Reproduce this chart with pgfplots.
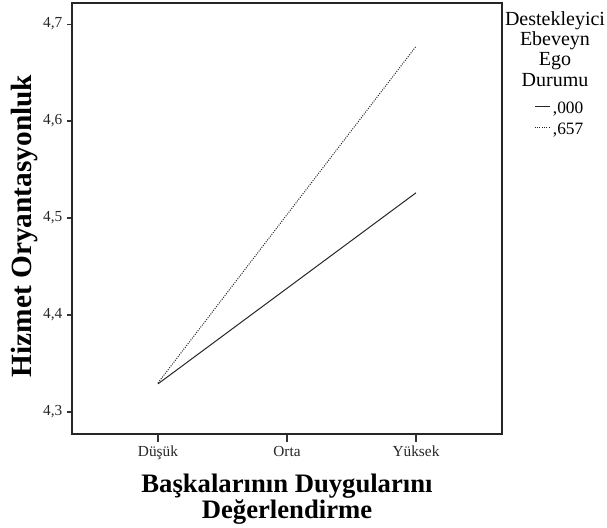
\documentclass[border=0pt]{standalone}
\usepackage{fontspec}
\setmainfont{Liberation Serif}
\usepackage{pgfplots}
\pgfplotsset{compat=1.18}
\begin{document}
\begin{tikzpicture}
\useasboundingbox (-54pt,-70.5pt) rectangle (401.25pt,325.5pt);
\begin{axis}[
  at={(0pt,0pt)}, anchor=south west,
  scale only axis, width=322.5pt, height=323.25pt,
  xmin=-0.6667, xmax=2.6667, ymin=4.2773, ymax=4.7217,
  xtick={0,1,2}, xticklabels={Düşük,Orta,Yüksek},
  ytick={4.3,4.4,4.5,4.6,4.7},
  yticklabel style={/pgf/number format/fixed, /pgf/number format/fixed zerofill, /pgf/number format/precision=1, /pgf/number format/use comma, /pgf/number format/assume math mode=true},
  tick align=outside, xtick pos=bottom, ytick pos=left,
  major tick length=3.75pt,
  xtick style={/pgfplots/major tick length=6pt},
  axis line style={line width=1pt, black!85},
  tick style={line width=0.8pt, black!80},
  ticklabel style={font=\fontsize{11.5}{13}\selectfont, black!85},
  xticklabel style={inner sep=0pt, text height=8pt, text depth=2.5pt, yshift=-5pt},
  xlabel={Başkalarının Duygularını\\Değerlendirme},
  xlabel style={at={(axis description cs:0.5,-0.0922)}, anchor=north, align=center, inner sep=0pt, font=\fontsize{20}{17.25}\selectfont\bfseries},
  ylabel={Hizmet Oryantasyonluk},
  ylabel style={at={(axis description cs:-0.1116,0.4826)}, anchor=center, inner sep=0pt, font=\fontsize{22}{26}\selectfont\bfseries},
  legend style={at={(axis description cs:1,1)}, anchor=north west, xshift=24pt, yshift=-73pt, draw=none, fill=none, inner sep=0pt, font=\fontsize{13}{15}\selectfont, nodes={inner sep=0pt, text height=9.5pt, text depth=6.25pt}, /tikz/every odd column/.append style={column sep=2pt}},
  legend cell align=left,
  legend image code/.code={\draw[#1] (0pt,3.5pt) -- (11.25pt,3.5pt);},
]
\addplot[black!85, line width=0.75pt] coordinates {(0,4.329) (2,4.526)};
\addlegendentry{,000}
\addplot[black!85, line width=0.75pt, densely dotted] coordinates {(0,4.330) (2,4.677)};
\addlegendentry{,657}
\end{axis}
\begin{scope}[every node/.style={anchor=base, inner sep=0pt, font=\fontsize{15}{15}\selectfont}]
\node at (362.25pt,306.5pt) {Destekleyici};
\node at (362.25pt,291.3pt) {Ebeveyn};
\node at (362.25pt,276pt) {Ego};
\node at (362.25pt,260.75pt) {Durumu};
\end{scope}
\end{tikzpicture}
\end{document}
